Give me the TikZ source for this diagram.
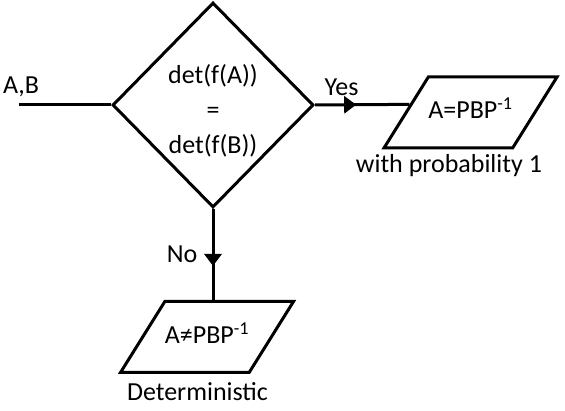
\documentclass[tikz,border=0pt]{standalone}
\usepackage{fontspec}
\setmainfont{Carlito}
\usepackage{tikz}
\usetikzlibrary{calc,arrows.meta,positioning,shapes.geometric,decorations.markings}

\tikzset{
    flow/.style={line width=3pt},
    decision/.style={diamond, draw, line width=3pt, inner sep=0pt, minimum width=201pt, minimum height=205pt, align=center},
    result/.style={trapezium, draw, line width=3pt, trapezium left angle=58, trapezium right angle=122, trapezium stretches body, minimum width=163pt, text height=19pt, text depth=6pt, inner xsep=0pt, inner ysep=23pt},
    midarrow/.style={postaction={decorate, decoration={markings, mark=at position #1 with {\arrow{Triangle[length=12pt,width=17pt]}}}}}
}

\begin{document}
\begin{tikzpicture}[x=1pt, y=-1pt, font=\fontsize{26}{33}\selectfont]
    \useasboundingbox (0,0) rectangle (565,411);

    \node[decision, font=\fontsize{26}{35}\selectfont] (dec) at (213,105) {\rule{0pt}{30pt}det(f(A))\\=\\det(f(B))};
    \node[result] (same) at (470.5,112.5) {A=PBP\textsuperscript{-1}};
    \node[result] (diff) at (207,337) {A≠PBP\textsuperscript{-1}};

    \coordinate (in) at (19,105);
    \coordinate (yesend) at ($(same.top left corner)!0.39!(same.bottom left corner)$);

    \draw[flow] (in) -- (dec.west);
    \draw[flow, midarrow=0.436] (dec.east) -- (yesend);
    \draw[flow, midarrow=0.626] (dec.south) -- (dec.south |- diff.north);

    \node (ab) at (21,87) {A,B};
    \node (yes) at (341.5,87) {Yes};
    \node (no) at (182,254) {No};
    \node (prob) at (449,166) {with probability 1};
    \node (det) at (197.5,392) {Deterministic};
\end{tikzpicture}
\end{document}
